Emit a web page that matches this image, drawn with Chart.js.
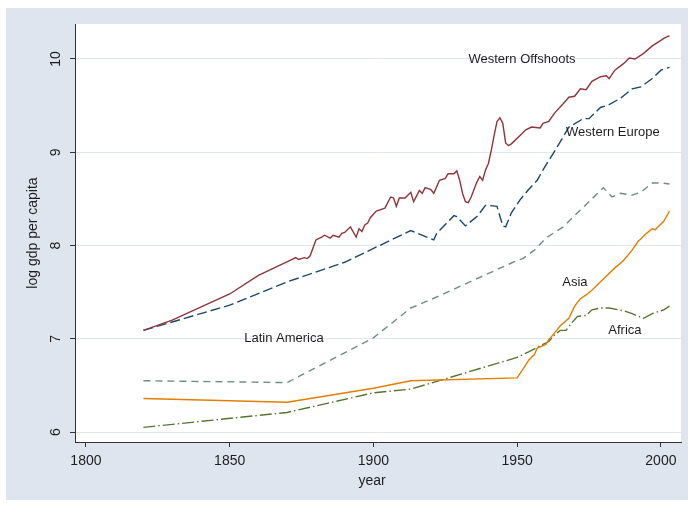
<!DOCTYPE html>
<html>
<head>
<meta charset="utf-8">
<script src="https://cdn.jsdelivr.net/npm/chart.js@4/dist/chart.umd.min.js"></script>
<style>
  html, body { margin: 0; padding: 0; background: #fff; }
  canvas { display: block; }
</style>
</head>
<body>
<canvas id="gdpChart" width="694" height="506"></canvas>
<script>
// log gdp per capita by region, [year, value]
const westernOffshoots = [
  [1820, 7.09], [1830, 7.20], [1850, 7.48], [1860, 7.68], [1871, 7.84], [1873, 7.87], [1874, 7.85],
  [1876, 7.87], [1877, 7.86], [1878, 7.89], [1880, 8.06], [1882, 8.09], [1883, 8.11], [1885, 8.08],
  [1886, 8.11], [1888, 8.09], [1889, 8.13], [1890, 8.14], [1892, 8.20], [1894, 8.09], [1895, 8.18],
  [1896, 8.15], [1897, 8.22], [1898, 8.24], [1899, 8.30], [1901, 8.37], [1902, 8.38], [1904, 8.40],
  [1906, 8.52], [1907, 8.51], [1908, 8.42], [1909, 8.51], [1911, 8.51], [1913, 8.57], [1914, 8.47],
  [1916, 8.59], [1917, 8.56], [1918, 8.62], [1920, 8.60], [1921, 8.56], [1923, 8.70], [1925, 8.72],
  [1926, 8.77], [1928, 8.77], [1929, 8.80], [1930, 8.70], [1931, 8.56], [1932, 8.47], [1933, 8.46],
  [1934, 8.52], [1936, 8.68], [1937, 8.74], [1938, 8.70], [1939, 8.81], [1940, 8.88], [1941, 9.02],
  [1942, 9.18], [1943, 9.33], [1944, 9.37], [1945, 9.31], [1946, 9.10], [1947, 9.07], [1948, 9.09],
  [1951, 9.18], [1953, 9.24], [1955, 9.27], [1958, 9.26], [1959, 9.31], [1961, 9.33], [1963, 9.42],
  [1966, 9.52], [1968, 9.59], [1970, 9.60], [1972, 9.68], [1974, 9.67], [1976, 9.76], [1979, 9.81],
  [1981, 9.82], [1982, 9.79], [1984, 9.88], [1987, 9.95], [1989, 10.01], [1991, 10.00], [1994, 10.06],
  [1997, 10.14], [2000, 10.20], [2001, 10.22], [2003, 10.25]
];
const westernEurope = [
  [1820, 7.09], [1850, 7.36], [1870, 7.61], [1890, 7.82], [1913, 8.16], [1921, 8.06], [1922, 8.13],
  [1928, 8.32], [1929, 8.31], [1932, 8.21], [1936, 8.31], [1939, 8.43], [1940, 8.43], [1943, 8.42],
  [1945, 8.21], [1946, 8.20], [1948, 8.35], [1951, 8.49], [1954, 8.60], [1957, 8.70], [1959, 8.81],
  [1964, 9.06], [1968, 9.27], [1973, 9.36], [1975, 9.36], [1979, 9.48], [1982, 9.51], [1986, 9.58],
  [1990, 9.68], [1993, 9.70], [1997, 9.79], [2000, 9.88], [2003, 9.91]
];
const latinAmerica = [
  [1820, 6.55], [1870, 6.53], [1900, 7.01], [1913, 7.33], [1920, 7.42], [1950, 7.84], [1952, 7.86],
  [1956, 7.95], [1960, 8.08], [1966, 8.20], [1972, 8.38], [1975, 8.47], [1980, 8.62], [1983, 8.52],
  [1986, 8.56], [1990, 8.54], [1993, 8.57], [1997, 8.67], [2000, 8.67], [2003, 8.66]
];
const asia = [
  [1820, 6.36], [1870, 6.32], [1900, 6.47], [1913, 6.55], [1950, 6.58], [1953, 6.72], [1954, 6.77],
  [1956, 6.83], [1957, 6.90], [1960, 6.94], [1961, 6.99], [1963, 7.06], [1965, 7.14], [1968, 7.22],
  [1970, 7.35], [1972, 7.43], [1974, 7.47], [1976, 7.52], [1979, 7.61], [1981, 7.67], [1984, 7.76],
  [1987, 7.84], [1990, 7.95], [1992, 8.04], [1995, 8.13], [1997, 8.18], [1998, 8.17], [2001, 8.26],
  [2003, 8.37]
];
const africa = [
  [1820, 6.05], [1870, 6.21], [1900, 6.42], [1913, 6.46], [1950, 6.80], [1954, 6.86], [1959, 6.94],
  [1961, 6.97], [1963, 7.04], [1965, 7.09], [1967, 7.09], [1969, 7.17], [1971, 7.24], [1974, 7.25],
  [1976, 7.31], [1979, 7.33], [1982, 7.33], [1987, 7.30], [1990, 7.27], [1993, 7.23], [1994, 7.22],
  [1997, 7.27], [2001, 7.31], [2003, 7.35]
];

const xTicks = [1800, 1850, 1900, 1950, 2000];
const yTicks = [6, 7, 8, 9, 10];

// text labels placed in data coordinates: [text, year, value]
const seriesLabels = [
  ["Western Offshoots", 1951.7, 10.0],
  ["Western Europe", 1983.3, 9.21],
  ["Latin America", 1868.9, 7.0],
  ["Asia", 1970.1, 7.6],
  ["Africa", 1987.5, 7.09]
];

const FONT = "'Liberation Sans', Arial, sans-serif";
const toXY = arr => arr.map(p => ({ x: p[0], y: p[1] }));

const stataFrame = {
  id: "stataFrame",
  beforeDraw(chart) {
    const { ctx, chartArea } = chart;
    ctx.save();
    ctx.fillStyle = "#ffffff";
    ctx.fillRect(0, 0, chart.width, chart.height);
    ctx.fillStyle = "#dfe5ef";
    ctx.fillRect(6, 8, 682, 492);
    ctx.fillStyle = "#ffffff";
    ctx.fillRect(chartArea.left, chartArea.top, chartArea.right - chartArea.left, chartArea.bottom - chartArea.top);
    ctx.restore();
  },
  afterDraw(chart) {
    const { ctx, scales } = chart;
    const xs = scales.x, ys = scales.y;
    ctx.save();
    ctx.fillStyle = "#1e1e1e";
    // in-plot labels
    ctx.font = "13px " + FONT;
    ctx.textAlign = "center";
    ctx.textBaseline = "middle";
    seriesLabels.forEach(l => {
      ctx.fillText(l[0], xs.getPixelForValue(l[1]), ys.getPixelForValue(l[2]));
    });
    // rotated y tick labels
    ctx.font = "14px " + FONT;
    yTicks.forEach(v => {
      ctx.save();
      ctx.translate(56, ys.getPixelForValue(v));
      ctx.rotate(-Math.PI / 2);
      ctx.fillText(String(v), 0, 0);
      ctx.restore();
    });
    // axis titles
    ctx.save();
    ctx.translate(33, (chart.chartArea.top + chart.chartArea.bottom) / 2);
    ctx.rotate(-Math.PI / 2);
    ctx.fillText("log gdp per capita", 0, 0);
    ctx.restore();
    ctx.fillText("year", 372, 481);
    ctx.restore();
  }
};

new Chart(document.getElementById("gdpChart").getContext("2d"), {
  type: "line",
  data: {
    datasets: [
      { label: "Western Offshoots", data: toXY(westernOffshoots), borderColor: "#90353b", borderWidth: 1.4 },
      { label: "Western Europe", data: toXY(westernEurope), borderColor: "#1a476f", borderWidth: 1.4, borderDash: [10, 4] },
      { label: "Latin America", data: toXY(latinAmerica), borderColor: "#6e8e84", borderWidth: 1.4, borderDash: [7, 5] },
      { label: "Asia", data: toXY(asia), borderColor: "#e37e00", borderWidth: 1.4 },
      { label: "Africa", data: toXY(africa), borderColor: "#55752f", borderWidth: 1.4, borderDash: [12, 3, 1.5, 3] }
    ]
  },
  options: {
    responsive: false,
    animation: false,
    devicePixelRatio: 1,
    layout: { padding: { top: 24, right: 13, bottom: 0, left: 0 } },
    elements: { point: { radius: 0 }, line: { tension: 0, fill: false } },
    plugins: { legend: { display: false }, tooltip: { enabled: false } },
    scales: {
      x: {
        type: "linear",
        min: 1796.2,
        max: 2007,
        afterBuildTicks: s => { s.ticks = xTicks.map(v => ({ value: v })); },
        afterFit: s => { s.height = 64; },
        ticks: { color: "#1e1e1e", font: { size: 14, family: FONT }, padding: 6, maxRotation: 0, autoSkip: false, callback: v => String(v) },
        grid: { drawOnChartArea: false, drawTicks: true, tickLength: 5, tickColor: "#333", color: "#333" },
        border: { display: true, color: "#333", width: 1 }
      },
      y: {
        type: "linear",
        min: 5.893,
        max: 10.375,
        afterBuildTicks: s => { s.ticks = yTicks.map(v => ({ value: v })); },
        afterFit: s => { s.width = 75; },
        ticks: { display: false },
        grid: { color: "#e2e7ef", lineWidth: 1, drawTicks: true, tickLength: 5, tickColor: "#333" },
        border: { display: true, color: "#333", width: 1 }
      }
    }
  },
  plugins: [stataFrame]
});
</script>
</body>
</html>
